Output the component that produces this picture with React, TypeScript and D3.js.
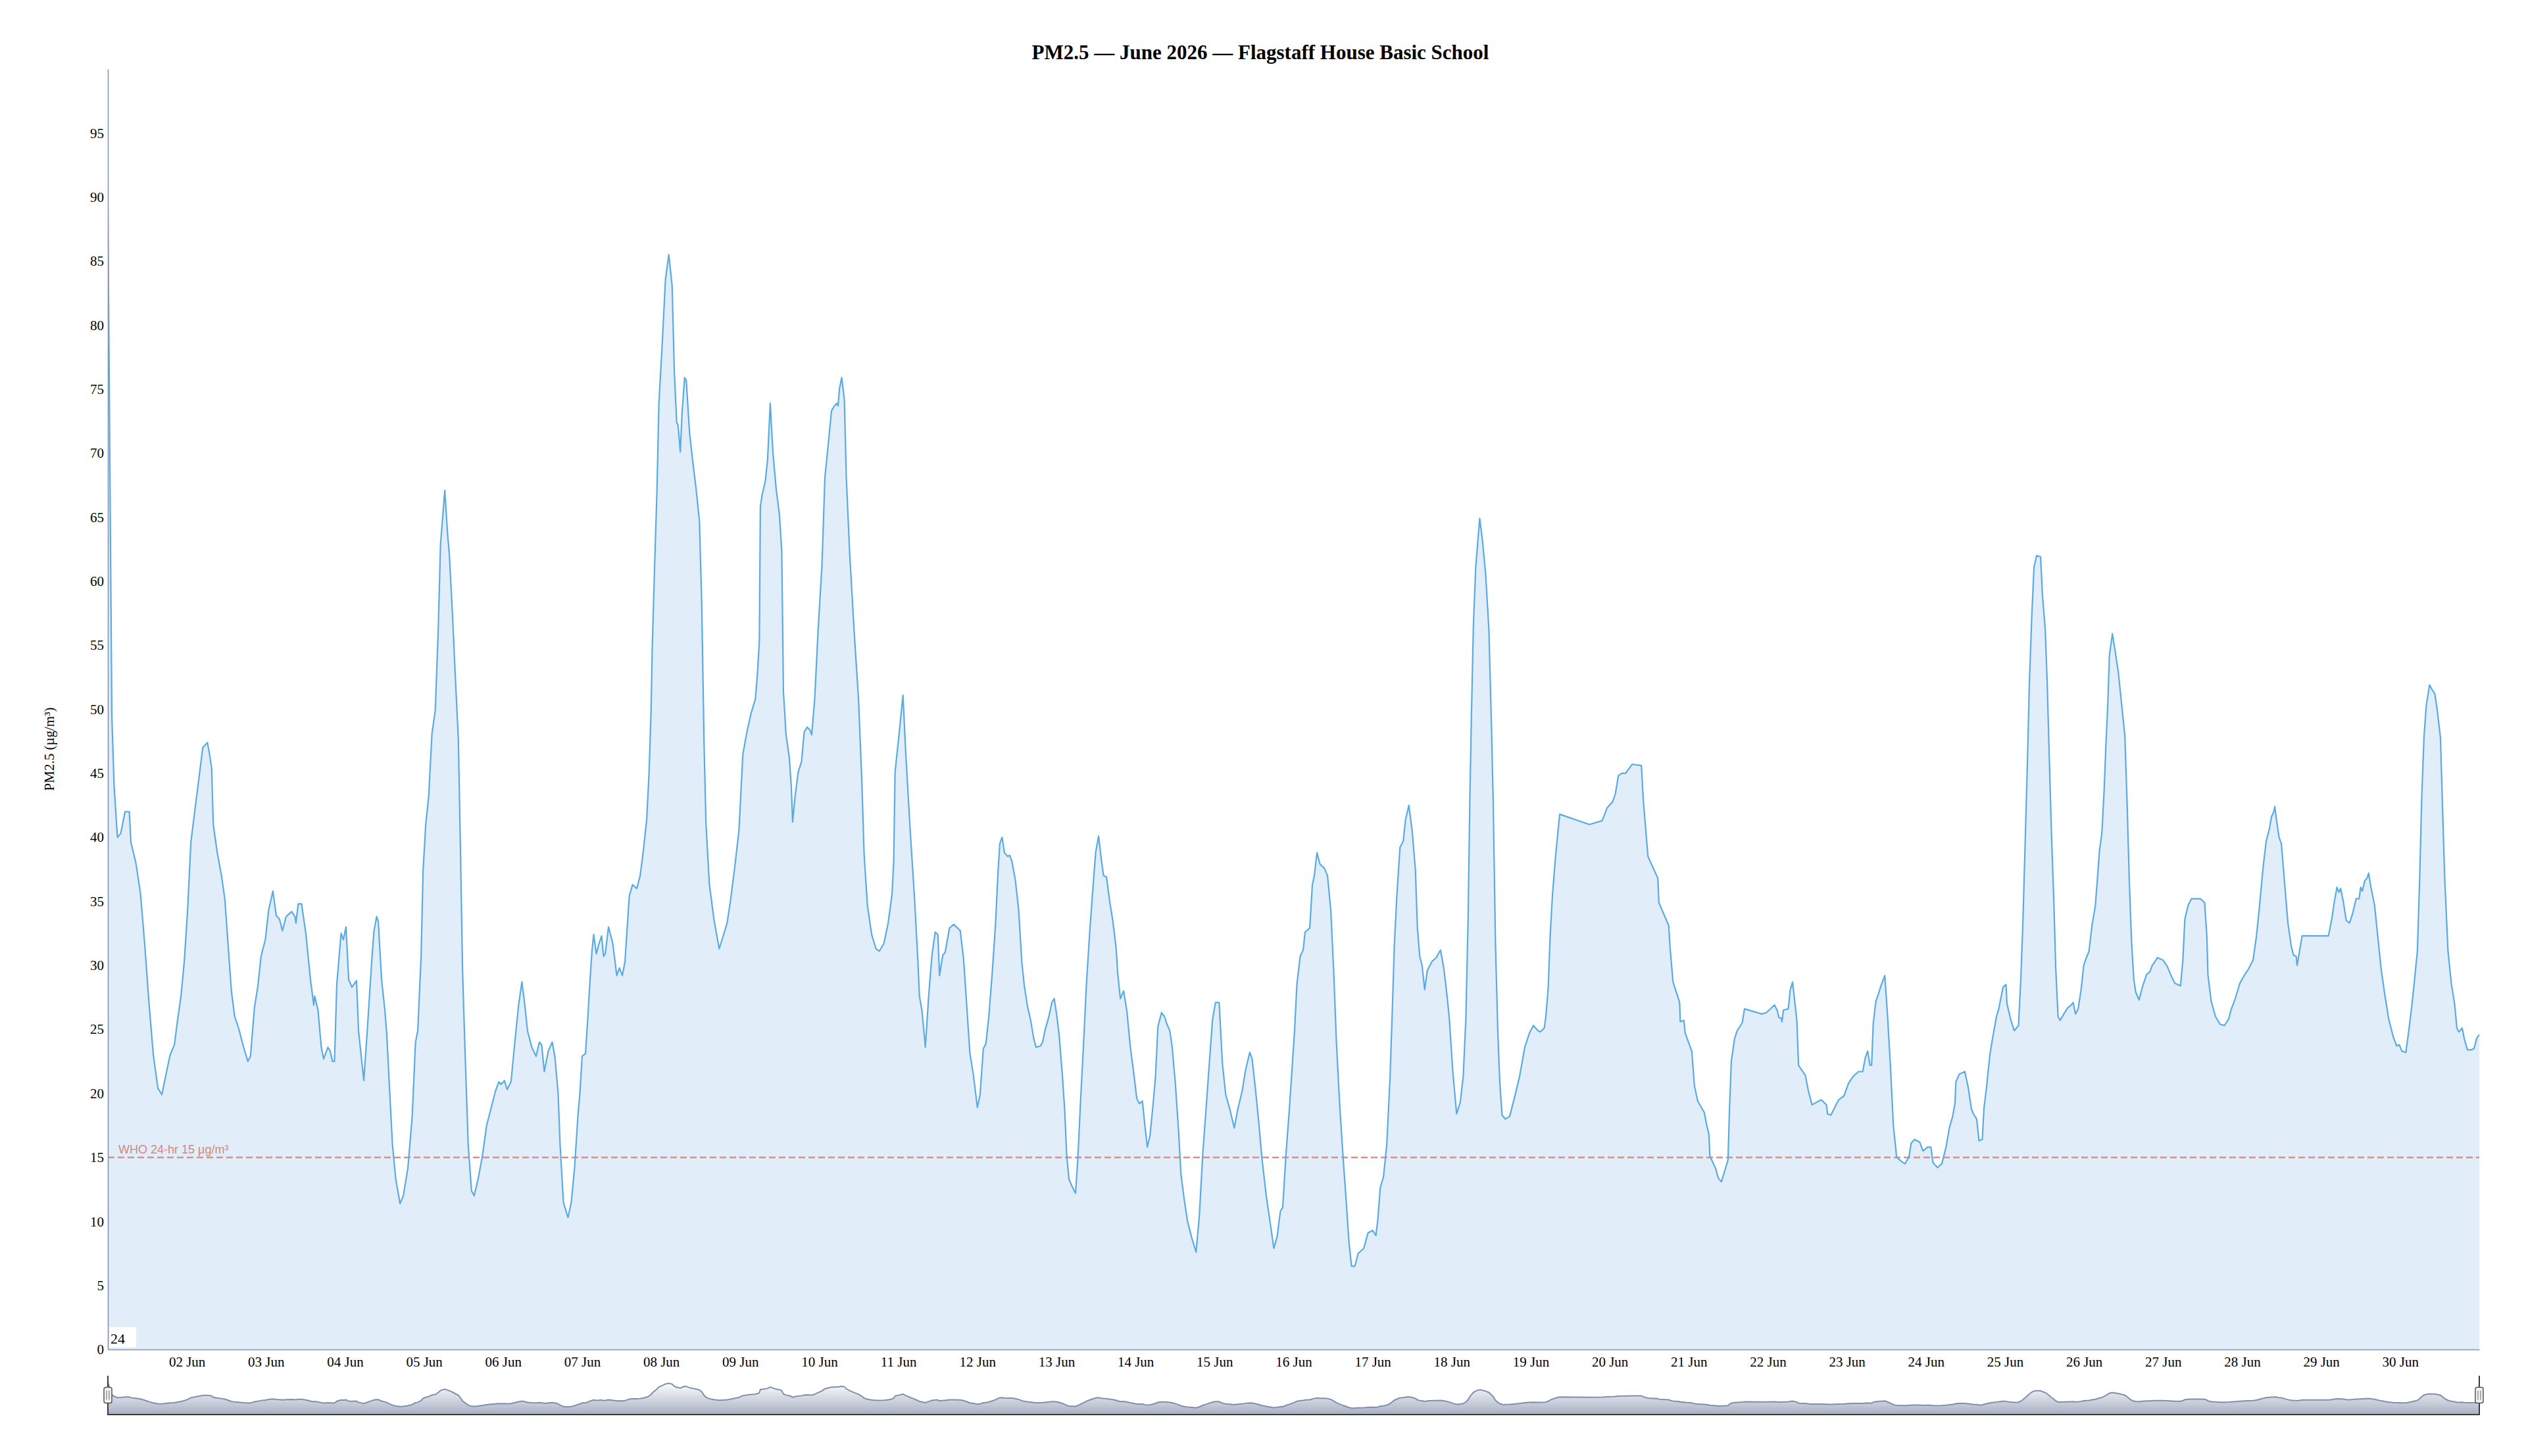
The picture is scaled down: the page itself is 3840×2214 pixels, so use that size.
import React from 'react';
import {
  select,
  scaleLinear,
  scaleTime,
  axisLeft,
  axisBottom,
  area,
  line,
  timeDay,
  timeFormat,
  extent,
  range,
} from 'd3';

// readings: [hours since 01 Jun 00:00, PM2.5 in µg/m³]
const jun01to07: [number, number][] = [
  [0, 89], [1.2, 49.5], [1.9, 44], [2.9, 40], [3.9, 40.3], [5.2, 42], [6.5, 42], [7, 39.6], [8.5, 38],
  [9.9, 35.6], [11.2, 31.6], [12.5, 27], [13.8, 23], [15.2, 20.4], [16.4, 19.9], [17.5, 21.3], [18.9, 23],
  [20.2, 23.8], [21.2, 25.8], [22.2, 27.6], [23.2, 30.3], [24.2, 34.3], [25.2, 39.6], [26.5, 42.3],
  [27.5, 44.3], [28.8, 47], [30.2, 47.4], [30.8, 46.6], [31.5, 45.4], [32, 41], [33.2, 38.8], [34.5, 37],
  [35.5, 35.2], [36.5, 31.6], [37.5, 28], [38.5, 26], [39.8, 25], [41.2, 23.6], [42.5, 22.5], [43.3, 22.9],
  [44.5, 26.7], [45.5, 28.3], [46.5, 30.7], [47.8, 32], [48.8, 34.3], [50.1, 35.8], [51.1, 33.9], [52.1, 33.6],
  [53, 32.7], [54.1, 33.8], [55.8, 34.2], [56.8, 33.8], [57.1, 33.3], [57.8, 34.8], [58.8, 34.8], [60.1, 32.5],
  [61.5, 28.9], [62.5, 26.9], [62.8, 27.6], [63.8, 26.5], [64.8, 23.6], [65.5, 22.7], [66.8, 23.6],
  [67.5, 23.3], [68.2, 22.5], [68.8, 22.5], [69.5, 28.5], [70.8, 32.5], [71.5, 32], [72.3, 33], [73.1, 28.9],
  [74.1, 28.3], [75.5, 28.8], [76.1, 24.9], [77.7, 21], [78.8, 25.1], [80.1, 30.3], [80.8, 32.7],
  [81.6, 33.8], [82.1, 33.4], [83.1, 28.9], [84.1, 26.5], [84.7, 24.5], [85.4, 20.9], [86.4, 16],
  [87.4, 13.3], [88.7, 11.4], [89.7, 12], [91.1, 14.2], [92.4, 18.2], [93.4, 24], [94.1, 24.9], [95.1, 30.7],
  [95.7, 37.4], [96.5, 41], [97.4, 43.2], [98.4, 48.1], [99.4, 49.9], [100.3, 56.2], [101, 62.9],
  [102.3, 67.1], [103.1, 63.8], [103.7, 62], [104.7, 57], [105.4, 53], [106.4, 47.7], [107.1, 38.3],
  [107.7, 29.4], [108.4, 23.6], [109.4, 16], [110.4, 12.4], [111.2, 12], [112.4, 13.3], [113.7, 15.1],
  [115, 17.5], [116.4, 18.9], [117.7, 20.2], [118.7, 20.9], [119.4, 20.7], [120.4, 21], [121.2, 20.3],
  [122.4, 20.9], [123.4, 23.6], [124.7, 26.9], [125.7, 28.7], [126.5, 27.1], [127.4, 24.9], [128.7, 23.6],
  [130, 22.9], [131, 24], [131.7, 23.8], [132.5, 21.7], [133.7, 23.3], [134.9, 24], [135.7, 22.9], [136.7, 20],
  [137.3, 16], [138.3, 11.5], [139.7, 10.3], [140.7, 11.5], [141.7, 14.2], [142.7, 18.2], [143.3, 20],
  [144, 22.9], [145, 23.1], [145.7, 25.8], [146.3, 28.5], [147, 31.2], [147.5, 32.4], [148.3, 30.9],
  [149, 31.6], [149.9, 32.3], [150.5, 30.7], [151, 30.9], [152, 33], [153.3, 31.7], [154.5, 29.2],
  [155.3, 29.8], [156.2, 29.2], [157, 30.3], [158.3, 35.4], [159.3, 36.3], [160.6, 36], [161.6, 37],
  [162.6, 39], [163.6, 41.4], [164.3, 45], [164.9, 49.7], [165.3, 55], [166, 61.2], [166.7, 67],
  [167.3, 73.9],
];

const jun08to14: [number, number][] = [
  [168.3, 78.5], [169.3, 83.6], [170.3, 85.5], [171.3, 83.1], [172, 76.2], [172.7, 72.4], [173.1, 72.2],
  [173.8, 70.1], [174.3, 73], [175.1, 75.9], [175.6, 75.7], [176.6, 71.6], [177.6, 69.3], [178.6, 67.2],
  [179.6, 64.7], [180.3, 58.3], [181, 47.4], [181.6, 41], [182.6, 36.4], [184, 33.6], [185.6, 31.3],
  [186.6, 32.1], [188, 33.3], [189, 35], [190.3, 37.6], [191.6, 40.5], [192.8, 46.5], [194, 48.2],
  [195.3, 49.7], [196.6, 50.8], [197.3, 53.1], [197.8, 55.4], [198.1, 65.8], [198.6, 66.7], [199.6, 67.8],
  [200.3, 69.5], [201.1, 73.9], [201.9, 70.1], [202.9, 67.2], [203.9, 65.2], [204.6, 62.3], [205.1, 51.4],
  [205.9, 48], [206.9, 46.2], [207.5, 43.9], [207.9, 41.2], [208.6, 43.1], [209.6, 45.1], [210.6, 45.9],
  [211.4, 48.2], [212.3, 48.6], [213.1, 48.4], [213.7, 48], [214.6, 50.8], [215.6, 56], [216.8, 61.2],
  [217.7, 68.1], [218.6, 70.4], [219.7, 73.3], [220.6, 73.7], [221.3, 73.9], [221.7, 73.7], [222.1, 75],
  [222.8, 75.9], [223.6, 74.2], [224.2, 68.1], [225.2, 62.3], [226.6, 56], [227.9, 50.8], [228.9, 44.5],
  [229.6, 38.7], [230.6, 34.7], [231.9, 32.4], [233.2, 31.3], [234.2, 31.1], [235.6, 31.7], [236.9, 33.3],
  [238.1, 35.6], [238.6, 38.2], [239, 45.1], [240.2, 48], [241.4, 51.1], [242.2, 46.8], [243.6, 40.5],
  [244.9, 35.3], [245.9, 30.5], [246.4, 27.6], [247.2, 26.4], [248.2, 23.6], [249.2, 27.6], [250.2, 30.8],
  [251.2, 32.6], [252, 32.4], [252.5, 29.2], [253.5, 30.8], [254.2, 31], [255.5, 32.9], [256.8, 33.2],
  [258.8, 32.7], [259.8, 30.5], [260.8, 26.7], [261.7, 23.2], [262.8, 21.4], [264, 18.9], [264.8, 19.9],
  [265.8, 23.5], [266.6, 23.9], [267.5, 26.1], [268.5, 29.4], [269.5, 33.2], [270.2, 37], [270.8, 39.5],
  [271.5, 40], [272.2, 38.8], [273.2, 38.5], [273.8, 38.6], [274.5, 38.1], [275.5, 36.7], [276.5, 34.4],
  [277.5, 30.2], [278.2, 28.5], [279.2, 26.8], [280.1, 25.8], [281.1, 24.3], [281.8, 23.6], [283.1, 23.7],
  [283.8, 24], [284.5, 24.9], [285.8, 26.1], [286.6, 27.1], [287.3, 27.4], [288.1, 26.1], [288.8, 24.6],
  [289.8, 21.4], [290.5, 18.7], [291.1, 15.2], [291.8, 13.3], [292.8, 12.7], [293.8, 12.2], [294.5, 14.9],
  [295.3, 19.3], [296.1, 23.2], [297.1, 28.5], [298.1, 32.6], [299.1, 36.1], [299.9, 38.8], [300.8, 40.1],
  [301.5, 38.5], [302.3, 37], [303.2, 36.9], [304.1, 35.1], [305.1, 33.5], [306.1, 31.4], [306.6, 29.4],
  [307.4, 27.4], [308.4, 28], [309.4, 26.4], [310.4, 23.7], [311.4, 21.7], [312.4, 19.6], [313.2, 19.2],
  [314.1, 19.4], [314.8, 17.6], [315.6, 15.8], [316.4, 16.7], [317.4, 19.3], [318.1, 21.4], [318.8, 25.2],
  [319.9, 26.3], [320.8, 26], [321.4, 25.5], [322.4, 24.9], [323.1, 23.7], [324.1, 20.8], [325.1, 17],
  [325.8, 13.7], [326.8, 11.7], [327.8, 10], [329.1, 8.7], [330.4, 7.6], [331.4, 10.5], [332.4, 15.2],
  [333.4, 18.7], [334.4, 22.3], [335.4, 25.8],
];

const jun15to21: [number, number][] = [
  [336.3, 27.1], [337.4, 27.1], [338.4, 22.3], [339.4, 19.9], [340.7, 18.7], [342, 17.3], [343, 18.7],
  [344.4, 20.2], [345.4, 21.8], [346.7, 23.2], [347.4, 22.7], [348.4, 20.4], [349.4, 17.8], [350.4, 14.9],
  [351.7, 12], [353, 9.7], [354, 7.9], [355, 8.8], [356, 10.8], [356.7, 11.1], [357.7, 15.3], [358.7, 18.7],
  [359.5, 21.8], [360.3, 24.9], [361, 28.5], [362, 30.7], [362.9, 31.2], [363.5, 32.6], [364.9, 32.9],
  [365.7, 36.3], [366.3, 37], [367.1, 38.8], [368, 37.9], [369.3, 37.6], [370.3, 37], [371.3, 34.3],
  [372.2, 29.4], [373, 24], [374, 19.1], [375, 15.1], [376, 11.5], [376.8, 8.4], [377.6, 6.5], [378.6, 6.5],
  [379.6, 7.5], [381.3, 7.9], [382.6, 9.1], [384, 9.3], [385, 8.9], [385.6, 10.2], [386.3, 12.6],
  [387.3, 13.5], [388.3, 16], [389.3, 21.3], [390, 26.7], [390.6, 31.6], [391.3, 35.2], [392.3, 39.2],
  [393.3, 39.7], [394, 41.4], [395, 42.5], [396, 40.5], [397, 37.4], [397.6, 32.9], [398.3, 30.7], [399, 30],
  [399.8, 28.1], [400.6, 29.6], [402, 30.3], [403.3, 30.6], [404.6, 31.2], [405.6, 29.8], [406.6, 27.6],
  [407.3, 25.8], [408.3, 21.8], [409.5, 18.4], [410.6, 19.3], [411.5, 21.3], [412.3, 25.8], [413, 33.8],
  [413.5, 42.8], [414, 49.5], [414.6, 56.6], [415.3, 61.1], [416, 63.3], [416.5, 64.9], [417.3, 63.3],
  [418.3, 60.6], [419.3, 56.2], [420, 49.5], [420.6, 42.8], [421.3, 31.6], [422, 24.9], [422.6, 20.9],
  [423.3, 18.3], [424.3, 18], [425.6, 18.2], [427, 19.6], [428.6, 21.3], [430.2, 23.6], [431.6, 24.7],
  [432.8, 25.3], [434.2, 24.9], [434.9, 24.8], [436.1, 25.1], [436.6, 26], [437.3, 28.2], [437.9, 32.3],
  [438.6, 35.5], [439.6, 38.7], [440.8, 41.8], [449.8, 41], [453.7, 41.3], [455.2, 42.3], [456.9, 42.8],
  [457.7, 43.4], [458.6, 44.8], [459.6, 45], [460.8, 45], [462.8, 45.7], [465.6, 45.6], [466.2, 42.8],
  [467.6, 38.5], [470.6, 36.8], [470.9, 34.9], [473.9, 33.1], [474.3, 31.4], [475.2, 28.7], [477.2, 27.1],
  [477.4, 25.6], [478.5, 25.7], [478.9, 24.7], [480.9, 23.3], [481.7, 20.6], [482.7, 19.4], [484.7, 18.5],
  [485.2, 17.8], [486.1, 16.8], [486.4, 15.1], [488.2, 14.1], [488.9, 13.4], [489.9, 13.1], [491.9, 14.8],
  [492.3, 18.4], [492.9, 22.5], [493.9, 24.3], [494.7, 24.9], [496.2, 25.5], [496.9, 26.6], [502.2, 26.2],
  [503.5, 26.3],
];

const jun22to30: [number, number][] = [
  [506, 26.9], [506.8, 26.5], [507.4, 25.9], [508, 25.9], [508.3, 25.6], [508.7, 26.5], [510.2, 26.6],
  [510.8, 28.1], [511.5, 28.7], [512.8, 25.7], [513.3, 22.2], [515.4, 21.4], [516.2, 20.3], [517.4, 19.1],
  [518, 19.2], [520.2, 19.5], [521.8, 19.1], [522.1, 18.4], [523.1, 18.3], [525.5, 19.5], [527.1, 19.8],
  [528.5, 20.8], [529.8, 21.3], [531.5, 21.7], [532.8, 21.7], [533.6, 22.8], [534.3, 23.3], [535, 22.2],
  [535.5, 22.2], [536, 25.5], [536.8, 27.2], [537.5, 27.7], [538.2, 28.3], [539.5, 29.2], [540.3, 26.2],
  [541.2, 22.2], [542.1, 17.5], [543.1, 15], [544.5, 14.7], [545.6, 14.5], [546.8, 15], [547.5, 16.1],
  [548.5, 16.4], [550.1, 16.2], [551.1, 15.5], [552.5, 15.8], [553.5, 15.8], [554.1, 14.6], [555.5, 14.2],
  [556.8, 14.5], [558.1, 15.8], [559.1, 17.3], [560.1, 18.2], [560.8, 19.2], [561.1, 20.9], [562.1, 21.5],
  [563.8, 21.7], [564.8, 20.5], [565.8, 18.8], [566.4, 18.4], [567.4, 18], [568.1, 16.3], [569.1, 16.4],
  [569.6, 18.8], [570.4, 20.5], [571.4, 23], [572.1, 24.1], [573.4, 26], [574.1, 26.6], [575.4, 28.3],
  [576.3, 28.5], [576.6, 27], [577.8, 25.7], [578.8, 24.9], [580.1, 25.3], [580.8, 28.9], [581.4, 33.1],
  [582.1, 39.4], [582.8, 45.8], [583.4, 52.1], [584.1, 57.1], [584.8, 61.1], [585.6, 62], [586.8, 61.9],
  [587.4, 58.8], [588.2, 56.3], [588.8, 52.1], [589.4, 46.6], [590.1, 40.3], [590.8, 35.2], [591.4, 29.8],
  [592.1, 26], [592.7, 25.7], [594.1, 26.3], [595.1, 26.7], [596.1, 26.9], [596.7, 27.1], [597.4, 26.2],
  [598.2, 26.6], [599.1, 28.1], [599.9, 30], [600.7, 30.6], [601.5, 31.1], [602.4, 33.1], [603.4, 34.6],
  [604.1, 36.9], [604.7, 39], [605.4, 40.3], [606.1, 43.7], [606.6, 47], [607.2, 50.4], [607.7, 54.2],
  [608.6, 55.9], [609.4, 54.6], [610.4, 52.9], [611.4, 50.4], [612.4, 47.9], [613.1, 42.4], [613.7, 36.9],
  [614.4, 31.9], [615.1, 28.9], [615.7, 27.9], [616.7, 27.3], [617.7, 28.3], [619, 29.3], [620, 29.5],
  [620.7, 30], [621.3, 30.2], [622.3, 30.6], [624, 30.4], [625.3, 29.9], [626.6, 29.1], [627.6, 28.6],
  [629.3, 28.4], [630, 30.4], [630.6, 33.6], [631.6, 34.7], [632.6, 35.2], [635.3, 35.2], [636.6, 34.9],
  [637.3, 32.2], [637.6, 29.3], [638.6, 27.2], [639.9, 26], [641.3, 25.4], [642.6, 25.3], [643.9, 25.8],
  [644.6, 26.5], [645.9, 27.4], [647.3, 28.6], [648.6, 29.2], [649.9, 29.7], [651.3, 30.4], [652.3, 32.2],
  [653.3, 34.7], [654.3, 37.5], [655.3, 39.7], [656.3, 40.7], [656.9, 41.6], [657.6, 42], [657.9, 42.4],
  [658.3, 41.6], [659.2, 40], [659.9, 39.5], [660.9, 36.4], [661.9, 33.3], [662.9, 31.5], [663.6, 30.8],
  [664.4, 30.7], [664.7, 30], [666.2, 32.3], [674.2, 32.3], [675.2, 33.6], [676, 35], [676.8, 36.1],
  [677.4, 35.7], [677.9, 36], [678.7, 35], [679.6, 33.5], [680.6, 33.3], [681.6, 34.1], [682.6, 35.2],
  [683.5, 35.2], [684, 36.1], [684.5, 35.8], [685.2, 36.6], [685.9, 36.8], [686.4, 37.2], [687.1, 36.1],
  [688.2, 34.7], [689.2, 32.2], [690.2, 29.7], [691.2, 27.9], [692.5, 25.8], [693.9, 24.4], [694.9, 23.7],
  [695.7, 23.8], [696.5, 23.3], [697.7, 23.2], [698.5, 24.7], [699.5, 26.8], [700.5, 29.3], [701.2, 31.1],
  [701.9, 36.8], [702.5, 42.9], [703.2, 47.8], [703.9, 50.3], [704.9, 51.9], [705.5, 51.6], [706.5, 51.2],
  [707.2, 50], [708.2, 47.8], [708.9, 41.8], [709.5, 36.8], [710.5, 31.1], [711.5, 28.6], [712.5, 27],
  [713.2, 25.1], [713.8, 24.8], [714.8, 25.1], [715.5, 24.2], [716.4, 23.4], [717.5, 23.4], [718.4, 23.5],
  [719.2, 24.3], [720, 24.6],
];

const whoLimit = 15;
const yTicks = range(0, 100, 5);
const rollPeriod = 24;
const title = 'PM2.5 — June 2026 — Flagstaff House Basic School';
const yLabel = 'PM2.5 (µg/m³)';
const whoLabel = 'WHO 24-hr 15 µg/m³';

const START = new Date(2026, 5, 1);
const END = new Date(2026, 6, 1);

const SERIF = "'Liberation Serif', 'Times New Roman', serif";
const SANS = "'Liberation Sans', Arial, sans-serif";

type Pt = { t: Date; v: number };

export default function App() {
  const svgRef = React.useRef<SVGSVGElement>(null);

  React.useEffect(() => {
    const svg = select(svgRef.current);
    svg.selectAll('*').remove();

    const data: Pt[] = [...jun01to07, ...jun08to14, ...jun15to21, ...jun22to30].map(([h, v]) => ({
      t: new Date(START.getTime() + h * 3600 * 1000),
      v,
    }));

    const left = 164;
    const right = 3769;
    const top = 105;
    const bottom = 2052;

    const x = scaleTime().domain([START, END]).range([left, right]);
    const y = scaleLinear().domain([0, 100]).range([bottom, top]);

    const defs = svg.append('defs');
    defs
      .append('clipPath')
      .attr('id', 'plot-clip')
      .append('rect')
      .attr('x', left)
      .attr('y', top)
      .attr('width', right - left)
      .attr('height', bottom - top);

    const grad = defs
      .append('linearGradient')
      .attr('id', 'nav-grad')
      .attr('x1', 0)
      .attr('y1', 0)
      .attr('x2', 0)
      .attr('y2', 1);
    grad.append('stop').attr('offset', '0%').attr('stop-color', '#ffffff');
    grad.append('stop').attr('offset', '100%').attr('stop-color', '#a7b1c4');

    // title
    svg
      .append('text')
      .attr('x', 1916)
      .attr('y', 90)
      .attr('text-anchor', 'middle')
      .attr('font-family', SERIF)
      .attr('font-weight', 'bold')
      .attr('font-size', 31)
      .text(title);

    // y label
    svg
      .append('text')
      .attr('transform', 'translate(82,1139) rotate(-90)')
      .attr('text-anchor', 'middle')
      .attr('font-family', SERIF)
      .attr('font-size', 21)
      .text(yLabel);

    const plot = svg.append('g').attr('clip-path', 'url(#plot-clip)');

    plot
      .append('path')
      .datum(data)
      .attr('fill', '#e1eef9')
      .attr(
        'd',
        area<Pt>()
          .x(d => x(d.t))
          .y0(y(0))
          .y1(d => y(d.v))
      );

    // WHO guideline
    plot
      .append('line')
      .attr('x1', left)
      .attr('x2', right)
      .attr('y1', y(whoLimit))
      .attr('y2', y(whoLimit))
      .attr('stroke', '#d8918a')
      .attr('stroke-width', 2.5)
      .attr('stroke-dasharray', '10,5');

    plot
      .append('path')
      .datum(data)
      .attr('fill', 'none')
      .attr('stroke', '#5aabe3')
      .attr('stroke-width', 2.2)
      .attr('stroke-linejoin', 'round')
      .attr(
        'd',
        line<Pt>()
          .x(d => x(d.t))
          .y(d => y(d.v))
      );

    svg
      .append('text')
      .attr('x', left + 16)
      .attr('y', y(whoLimit) - 6)
      .attr('font-family', SANS)
      .attr('font-size', 18)
      .attr('fill', '#d6867d')
      .text(whoLabel);

    // axes
    const yAxis = axisLeft(y)
      .tickValues(yTicks)
      .tickSize(0)
      .tickSizeOuter(0)
      .tickPadding(6)
      .tickFormat(d => String(d));
    const gy = svg.append('g').attr('transform', `translate(${left},0)`).call(yAxis as any);

    const xAxis = axisBottom(x)
      .tickValues(timeDay.range(new Date(2026, 5, 2), END))
      .tickSize(0)
      .tickSizeOuter(0)
      .tickPadding(11)
      .tickFormat(d => timeFormat('%d %b')(d as Date));
    const gx = svg.append('g').attr('transform', `translate(0,${bottom})`).call(xAxis as any);

    [gx, gy].forEach(g => {
      g.attr('font-family', SERIF).attr('font-size', 21).attr('color', '#000');
      g.select('.domain').attr('stroke', '#8797ac').attr('stroke-width', 1.6);
    });

    // roll period box
    svg
      .append('rect')
      .attr('x', left + 2)
      .attr('y', bottom - 34)
      .attr('width', 41)
      .attr('height', 31)
      .attr('fill', '#fff');
    svg
      .append('text')
      .attr('x', left + 4)
      .attr('y', bottom - 9)
      .attr('font-family', SERIF)
      .attr('font-size', 22)
      .text(String(rollPeriod));

    // range selector
    const navTop = 2092;
    const navBottom = 2151;
    const [vMin, vMax] = extent(data, d => d.v) as [number, number];
    const pad = (vMax - vMin) * 0.25;
    const ny = scaleLinear().domain([vMin - pad, vMax + pad]).range([navBottom, navTop]);

    svg
      .append('path')
      .datum(data)
      .attr('fill', 'url(#nav-grad)')
      .attr(
        'd',
        area<Pt>()
          .x(d => x(d.t))
          .y0(navBottom)
          .y1(d => ny(d.v))
      );
    svg
      .append('path')
      .datum(data)
      .attr('fill', 'none')
      .attr('stroke', '#808fab')
      .attr('stroke-width', 2)
      .attr(
        'd',
        line<Pt>()
          .x(d => x(d.t))
          .y(d => ny(d.v))
      );

    svg
      .append('path')
      .attr('d', `M${left},${navTop}V${navBottom}H${right}V${navTop}`)
      .attr('fill', 'none')
      .attr('stroke', '#3a3a3a')
      .attr('stroke-width', 2);

    [left, right].forEach(hx => {
      const hg = svg.append('g').attr('transform', `translate(${hx},${(navTop + navBottom) / 2})`);
      hg.append('rect')
        .attr('x', -6)
        .attr('y', -12)
        .attr('width', 12)
        .attr('height', 24)
        .attr('rx', 3)
        .attr('fill', '#f2f2f2')
        .attr('stroke', '#555')
        .attr('stroke-width', 1.5);
      [-2, 2].forEach(dx =>
        hg.append('line')
          .attr('x1', dx)
          .attr('x2', dx)
          .attr('y1', -7)
          .attr('y2', 7)
          .attr('stroke', '#666')
          .attr('stroke-width', 1)
      );
    });
  }, []);

  return (
    <svg
      ref={svgRef}
      width={3840}
      height={2214}
      style={{ position: 'absolute', left: 0, top: 0, background: '#fff' }}
    />
  );
}
